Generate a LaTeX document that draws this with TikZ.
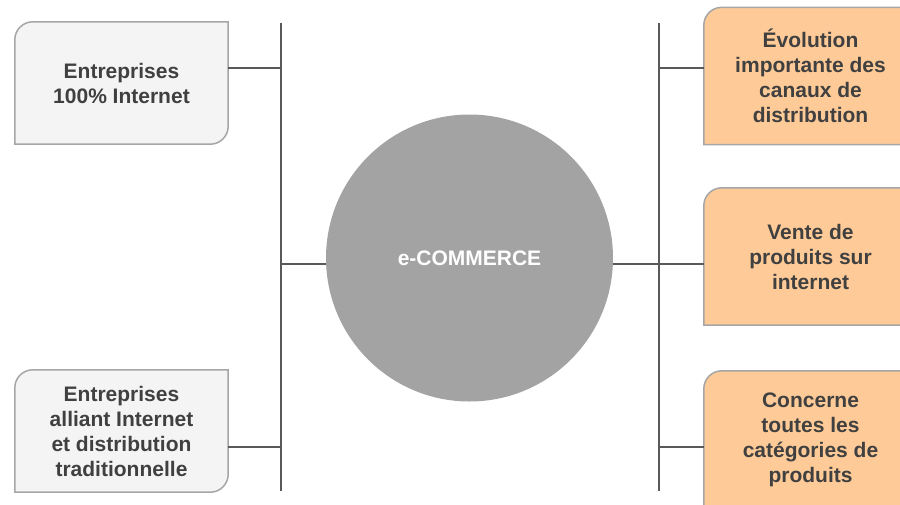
\documentclass[tikz,border=0pt]{standalone}
\usepackage{fontspec}
\setmainfont{Liberation Sans}
\usetikzlibrary{backgrounds}
\definecolor{boxgray}{HTML}{F4F4F4}
\definecolor{boxorange}{HTML}{FECB98}
\definecolor{edgegray}{HTML}{A6A6A6}
\definecolor{busgray}{HTML}{595959}
\definecolor{textgray}{HTML}{404040}
\definecolor{hubgray}{HTML}{A3A3A3}
\newcommand\leafshape[2]{%
  \begin{scope}[on background layer]
    \draw[draw=edgegray,line width=1.5pt,fill=#2]
      ([yshift=-18pt]#1.north west) arc[start angle=180,end angle=90,radius=18pt]
      -- (#1.north east) -- ([yshift=18pt]#1.south east)
      arc[start angle=0,end angle=-90,radius=18pt] -- (#1.south west) -- cycle;
  \end{scope}}

\begin{document}
\begin{tikzpicture}[x=1pt,y=-1pt]
        \tikzstyle{leaf}=[rectangle, minimum width=213pt, minimum height=122pt, inner sep=0pt,
          align=center, text=textgray, font=\fontsize{21}{25}\selectfont\bfseries]
        \tikzstyle{tall}=[leaf, minimum height=137pt]
        \tikzstyle{hub}=[circle, fill=hubgray, minimum size=287pt, inner sep=0pt,
          text=white, font=\fontsize{21}{25}\selectfont\bfseries]
        \tikzstyle{bus}=[draw=busgray, line width=2pt]
        \tikzstyle{link}=[draw=busgray, line width=1.5pt]
        \useasboundingbox (0,0) rectangle (900,504);
        \node[leaf] (ent) at (121.5,83) {Entreprises\\100\% Internet};
        \node[leaf] (alli) at (121.5,431) {Entreprises\\alliant Internet\\et distribution\\traditionnelle};
        \node[hub] (ecom) at (469.5,258) {e-COMMERCE};
        \node[tall] (evol) at (810.5,76) {Évolution\\importante des\\canaux de\\distribution};
        \node[tall] (vente) at (810.5,256.5) {Vente de\\produits sur\\internet};
        \node[tall] (conc) at (810.5,439.5) {Concerne\\toutes les\\catégories de\\produits};
        \leafshape{ent}{boxgray}
        \leafshape{alli}{boxgray}
        \leafshape{evol}{boxorange}
        \leafshape{vente}{boxorange}
        \leafshape{conc}{boxorange}
        \coordinate (ltop) at (281,23);
        \coordinate (lbot) at (281,491);
        \coordinate (rtop) at (659,23);
        \coordinate (rbot) at (659,491);
        \coordinate (l1) at (281,68);
        \coordinate (l2) at (281,264);
        \coordinate (l3) at (281,447);
        \coordinate (r1) at (659,68);
        \coordinate (r2) at (659,264);
        \coordinate (r3) at (659,447);
        \draw[bus] (ltop) -- (lbot);
        \draw[bus] (rtop) -- (rbot);
        \draw[link] (l1 -| ent.east) -- (l1);
        \draw[link] (l2) -- (l2 -| ecom.west);
        \draw[link] (l3 -| alli.east) -- (l3);
        \draw[link] (r1) -- (r1 -| evol.west);
        \draw[link] (r2 -| ecom.east) -- (r2 -| vente.west);
        \draw[link] (r3) -- (r3 -| conc.west);
      \end{tikzpicture}
\end{document}
